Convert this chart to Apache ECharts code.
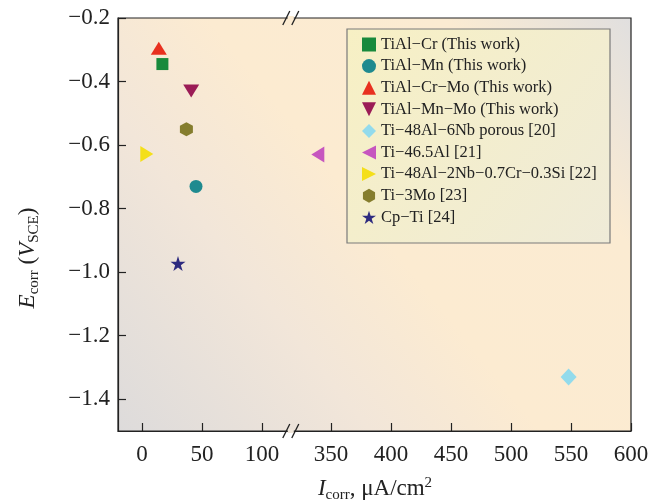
<!DOCTYPE html>
<html>
<head>
<meta charset="utf-8">
<script src="https://cdn.jsdelivr.net/npm/echarts@6/dist/echarts.min.js"></script>
<style>
html, body { margin: 0; padding: 0; background: #fff; }
#chart { width: 661px; height: 503px; }
</style>
</head>
<body>
<div id="chart"></div>
<script>
var names = [
    'TiAl−Cr (This work)',
    'TiAl−Mn (This work)',
    'TiAl−Cr−Mo (This work)',
    'TiAl−Mn−Mo (This work)',
    'Ti−48Al−6Nb porous [20]',
    'Ti−46.5Al [21]',
    'Ti−48Al−2Nb−0.7Cr−0.3Si [22]',
    'Ti−3Mo [23]',
    'Cp−Ti [24]'
];
var icorr = [17, 45, 14, 41, 548, 339, 4, 37, 30];
var ecorr = [-0.345, -0.73, -0.295, -0.43, -1.33, -0.63, -0.628, -0.55, -0.973];
var xTicks = [0, 50, 100, 350, 400, 450, 500, 550, 600];
var yTicks = [-1.4, -1.2, -1.0, -0.8, -0.6, -0.4, -0.2];

// broken x axis: values above the cut are shifted left
var SHIFT = 192.5;
function toAxis(v) { return v > 200 ? v - SHIFT : v; }
function fromAxis(v) { return v > 125 ? v + SHIFT : v; }
var BREAK_AT = 124;

var colors = ['#188a3c', '#1f8a8f', '#e8301f', '#9b1c56', '#93dbec', '#c656bf', '#f4df1a', '#857d2d', '#2d2a7f'];
var symbols = [
    'rect',
    'circle',
    'triangle',
    'path://M0,0L10,0L5,10Z',
    'diamond',
    'path://M0,5L10,0L10,10Z',
    'path://M10,5L0,0L0,10Z',
    'path://M50,0L93.3,25L93.3,75L50,100L6.7,75L6.7,25Z',
    'path://M50,0L61.17,34.63L97.55,34.55L68.07,55.87L79.39,90.45L50,69L20.61,90.45L31.93,55.87L2.45,34.55L38.83,34.63Z'
];
var sizes = [[12, 12], 13, [16, 13], [16, 13], [16, 17], [13, 16], [13, 16], [13, 14], [15, 15]];

var FONT = 'Liberation Serif';
var myChart = echarts.init(document.getElementById('chart'));

var series = [];
names.forEach(function (n, i) {
    series.push({
        name: n,
        type: 'scatter',
        symbol: symbols[i],
        symbolSize: sizes[i],
        itemStyle: { color: colors[i], opacity: 1 },
        data: [[toAxis(icorr[i]), ecorr[i]]]
    });
});

var option = {
    animation: false,
    grid: {
        left: 118, right: 30, top: 18, bottom: 72,
        outerBoundsMode: 'none',
        show: true,
        borderColor: '#222',
        borderWidth: 1.2,
        backgroundColor: new echarts.graphic.LinearGradient(0, 1, 1, 0, [
            { offset: 0, color: '#dddbdb' },
            { offset: 0.3, color: '#f2e6d9' },
            { offset: 0.5, color: '#fcebd1' },
            { offset: 0.78, color: '#fbebd2' },
            { offset: 1, color: '#e0dfdf' }
        ])
    },
    xAxis: {
        type: 'value',
        min: -20,
        max: toAxis(600),
        axisLine: { onZero: false, lineStyle: { color: '#222', width: 1.2 } },
        axisTick: { inside: true, length: 8, customValues: xTicks.map(toAxis), lineStyle: { color: '#222', width: 1.2 } },
        axisLabel: {
            customValues: xTicks.map(toAxis),
            margin: 12,
            fontFamily: FONT,
            fontSize: 23,
            color: '#222',
            formatter: function (v) { return String(Math.round(fromAxis(v))); }
        },
        splitLine: { show: false }
    },
    yAxis: {
        type: 'value',
        min: -1.5,
        max: -0.2,
        axisLine: { show: true, onZero: false, lineStyle: { color: '#222', width: 1.2 } },
        axisTick: { inside: true, length: 8, customValues: yTicks, lineStyle: { color: '#222', width: 1.2 } },
        axisLabel: {
            customValues: yTicks,
            margin: 8,
            fontFamily: FONT,
            fontSize: 23,
            color: '#222',
            formatter: function (v) { return v.toFixed(1).replace('-', '−'); }
        },
        splitLine: { show: false }
    },
    legend: {
        data: names,
        orient: 'vertical',
        left: 362,
        top: 36,
        padding: 0,
        itemWidth: 14,
        itemHeight: 14,
        itemGap: 4.6,
        selectedMode: false,
        textStyle: { fontFamily: FONT, fontSize: 16.5, lineHeight: 16, color: '#222' }
    },
    graphic: [
        {
            type: 'rect',
            z: 3,
            shape: { x: 347, y: 29, width: 263, height: 214 },
            style: {
                fill: new echarts.graphic.LinearGradient(0, 0, 1, 1, [
                    { offset: 0, color: '#f7f0c4' },
                    { offset: 1, color: '#efebd8' }
                ]),
                stroke: '#7a7a7a',
                lineWidth: 1.2
            }
        },
        {
            type: 'text',
            x: 28, y: 258,
            rotation: Math.PI / 2,
            style: {
                text: '{i|E}{s|corr} ({i|V}{s|SCE})',
                fontFamily: FONT, fontSize: 23, fill: '#222',
                align: 'center', verticalAlign: 'middle',
                rich: {
                    i: { fontFamily: FONT, fontSize: 23, fontStyle: 'italic' },
                    s: { fontFamily: FONT, fontSize: 15, padding: [12, 0, 0, 0] }
                }
            }
        },
        {
            type: 'text',
            x: 375, y: 489,
            style: {
                text: '{i|I}{s|corr}, μA/cm{p|2}',
                fontFamily: FONT, fontSize: 23, fill: '#222',
                align: 'center', verticalAlign: 'middle',
                rich: {
                    i: { fontFamily: FONT, fontSize: 23, fontStyle: 'italic' },
                    s: { fontFamily: FONT, fontSize: 15, padding: [12, 0, 0, 0] },
                    p: { fontFamily: FONT, fontSize: 15, padding: [0, 0, 12, 0] }
                }
            }
        }
    ],
    series: series
};

myChart.setOption(option);

// break marks "//" on the top and bottom axis lines
var bx = myChart.convertToPixel({ xAxisIndex: 0 }, BREAK_AT);
var rect = myChart.getModel().getComponent('grid').coordinateSystem.getRect();
var marks = [];
[rect.y, rect.y + rect.height].forEach(function (yy) {
    marks.push({
        type: 'rect', z: 5,
        shape: { x: bx - 3, y: yy - 2, width: 6, height: 4 },
        style: { fill: yy === rect.y ? '#fcebd1' : '#f0e6da' }
    });
    [-4.5, 4.5].forEach(function (d) {
        marks.push({
            type: 'line', z: 6,
            shape: { x1: bx + d - 3.5, y1: yy + 7, x2: bx + d + 3.5, y2: yy - 7 },
            style: { stroke: '#222', lineWidth: 1.3 }
        });
    });
});
myChart.setOption({ graphic: option.graphic.concat(marks) });

window.addEventListener('resize', function () {
    myChart.resize();
});
</script>
</body>
</html>
